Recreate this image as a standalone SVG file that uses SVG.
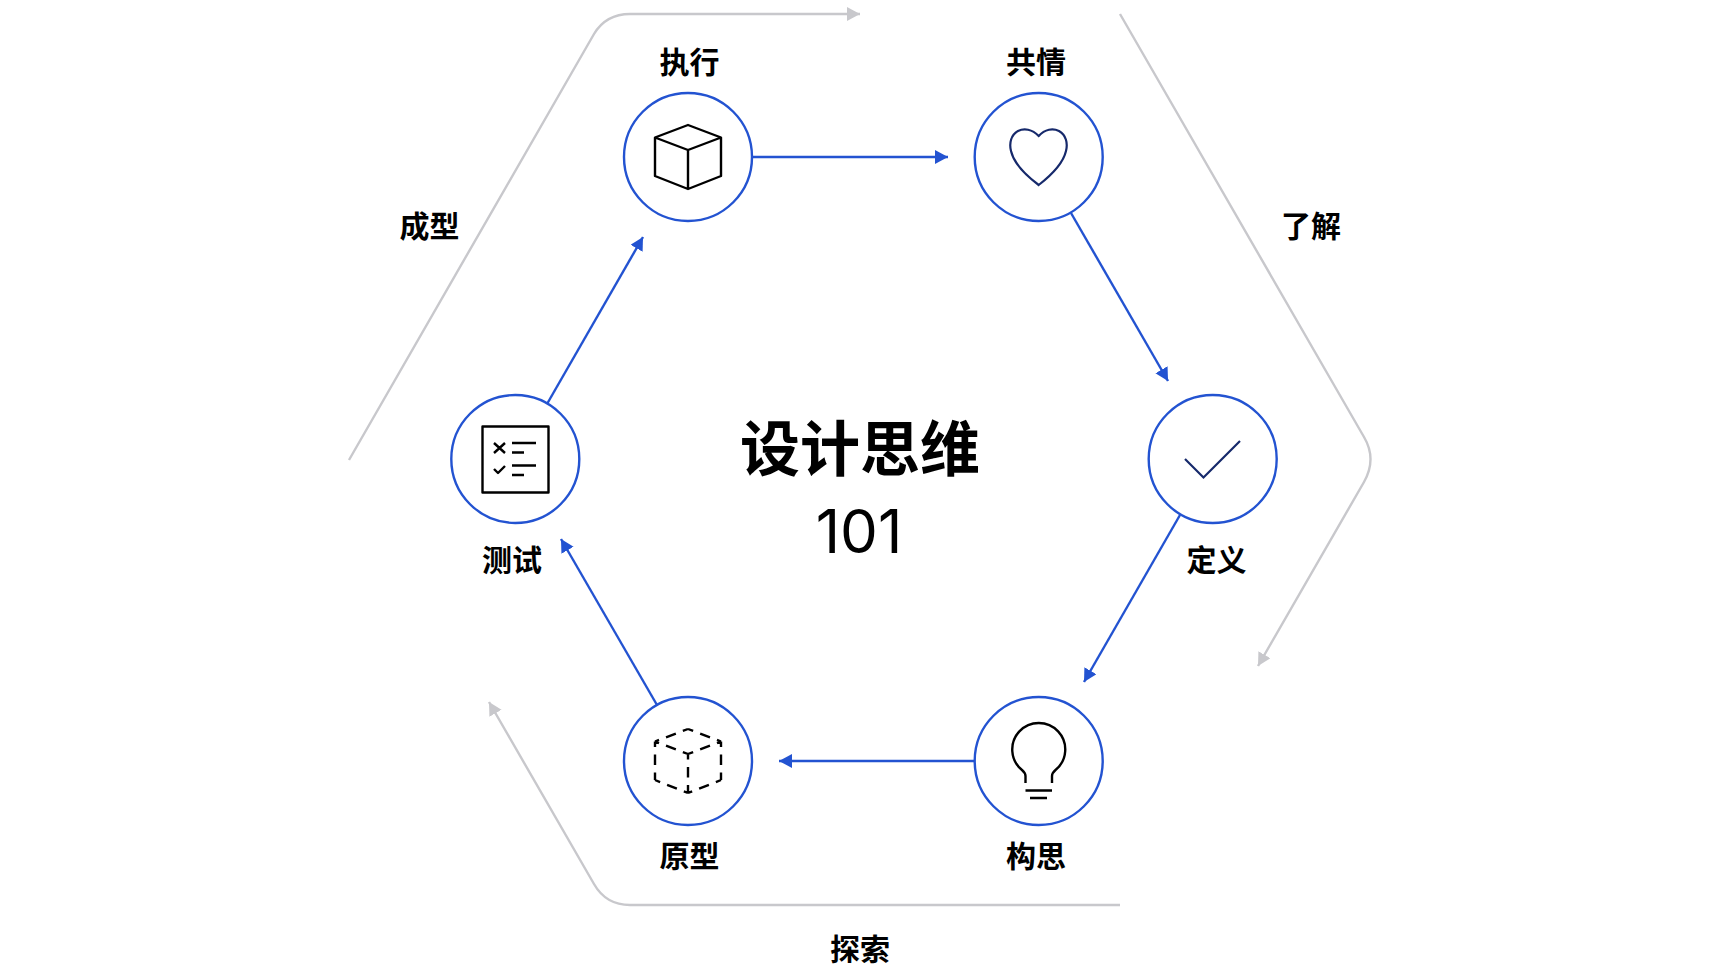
<svg xmlns="http://www.w3.org/2000/svg" width="1720" height="978" viewBox="0 0 1720 978">
<style>
.c{fill:#fff;stroke:#2353d1;stroke-width:2.4}
.i{fill:none;stroke:#000;stroke-width:2.4;stroke-linejoin:round}
.n{fill:none;stroke:#16296b;stroke-width:2.2}
.l{font-family:"Noto Sans CJK SC","Noto Sans",sans-serif;font-size:30px;font-weight:700;fill:#000;text-anchor:middle}
.b{fill:none;stroke:#2353d1;stroke-width:2.4}
.g{fill:none;stroke:#c8c8cc;stroke-width:2.4}
</style>
<defs>
<marker id="ab" markerUnits="userSpaceOnUse" markerWidth="14" markerHeight="16" refX="13" refY="7" orient="auto"><path d="M0 0L13 7L0 14Z" fill="#2353d1"/></marker>
<marker id="ag" markerUnits="userSpaceOnUse" markerWidth="14" markerHeight="16" refX="13" refY="7" orient="auto"><path d="M0 0L13 7L0 14Z" fill="#c8c8cc"/></marker>
</defs>
<rect width="1720" height="978" fill="#fff"/>
<g id="connectors">
<path class="b" marker-end="url(#ab)" d="M752 157H948"/>
<path class="b" marker-end="url(#ab)" d="M1071 213L1168 381"/>
<path class="b" marker-end="url(#ab)" d="M1180 515L1084 682"/>
<path class="b" marker-end="url(#ab)" d="M975 761H779"/>
<path class="b" marker-end="url(#ab)" d="M657 705L561 539"/>
<path class="b" marker-end="url(#ab)" d="M547 404L643 237"/>
<path class="g" marker-end="url(#ag)" d="M349 460L594 34Q606 14 630 14H860"/>
<path class="g" marker-end="url(#ag)" d="M1120 14L1364 437Q1377 459 1364 482L1258 666"/>
<path class="g" marker-end="url(#ag)" d="M1120 905H630Q606 905 594 884L489 702"/>
</g>
<g id="node-zhixing"><circle class="c" cx="688" cy="157" r="64"/><path class="i" d="M688 125L721 137.500V176L688 189L655 176V137.500ZM655 137.500L688 150L721 137.500M688 150V189"/><text class="l" x="689.500" y="72.500">执行</text></g>
<g id="node-gongqing"><circle class="c" cx="1038.700" cy="157" r="64"/><path class="n" d="M1038.700 136C1032 129 1024 128 1018 131C1011 135 1009 143 1011 151C1014 164 1028 177 1038.700 185C1049 177 1063 164 1066 151C1068 143 1066 135 1059 131C1053 128 1045 129 1038.700 136Z"/><text class="l" x="1036" y="72.500">共情</text></g>
<g id="node-dingyi"><circle class="c" cx="1212.700" cy="459" r="64"/><path class="n" d="M1185 459L1203.500 477.500L1240 441"/><text class="l" x="1216.500" y="570.500">定义</text></g>
<g id="node-gousi"><circle class="c" cx="1038.700" cy="761" r="64"/><path class="i" d="M1025.500 783V776Q1025.500 773 1022 770A26.500 26.500 0 1 1 1055.500 770Q1052 773 1052 776V783M1025.500 790.500H1052M1030 798H1047"/><text class="l" x="1036" y="867">构思</text></g>
<g id="node-yuanxing"><circle class="c" cx="688" cy="761" r="64"/><g class="i" stroke-dasharray="10.500 7.500"><path stroke-dashoffset="5" d="M688 729L721 741.500M688 729L655 741.500M688 754L721 741.500M688 754L655 741.500M655 741.500V780M721 741.500V780M655 780L688 793M721 780L688 793M688 754V793"/></g><text class="l" x="689.500" y="867">原型</text></g>
<g id="node-ceshi"><circle class="c" cx="515.300" cy="459" r="64"/><path class="i" d="M482.500 426.500H548.500V492.500H482.500ZM494 443L505 453M505 443L494 453M494 469L498 473L505 466M512 443H536M512 452.500H524M512 465.500H536M512 475H524"/><text class="l" x="512" y="570.500">测试</text></g>
<g id="labels">
<text class="l" x="429.500" y="236.500">成型</text>
<text class="l" x="1311" y="236.500">了解</text>
<text class="l" x="860" y="959.500">探索</text>
<text x="860" y="470.500" text-anchor="middle" font-family="'Noto Sans CJK SC',sans-serif" font-size="60" font-weight="700">设计思维</text>
<text x="859" y="553" text-anchor="middle" font-family="Inter,sans-serif" font-size="60">101</text>
</g>
</svg>
